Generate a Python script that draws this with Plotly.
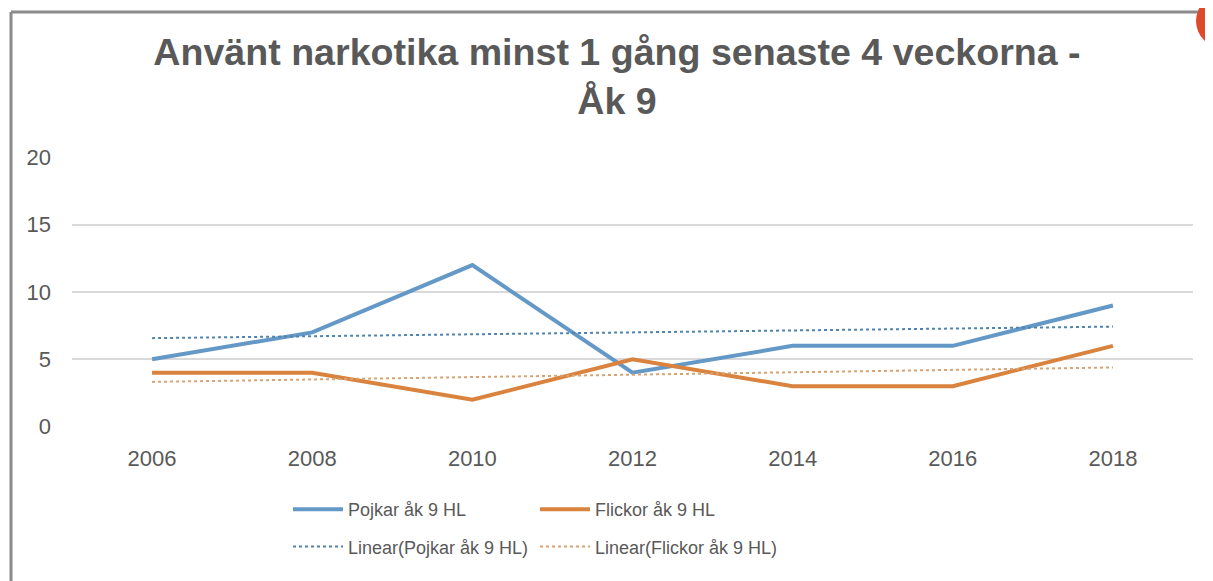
import numpy as np
import plotly.graph_objects as go

years = ["2006", "2008", "2010", "2012", "2014", "2016", "2018"]
pojkar = [5, 7, 12, 4, 6, 6, 9]
flickor = [4, 4, 2, 5, 3, 3, 6]
y_ticks = [0, 5, 10, 15, 20]

title_text = "Använt narkotika minst 1 gång senaste 4 veckorna -<br>Åk 9"
name_p = "Pojkar åk 9 HL"
name_f = "Flickor åk 9 HL"
name_lp = "Linear(Pojkar åk 9 HL)"
name_lf = "Linear(Flickor åk 9 HL)"

c_blue = "#6498c6"
c_orange = "#d9833f"
c_blue_tr = "#4f84ad"
c_orange_tr = "#d8a373"

OFF = 8  # page body margin
W, H = 1213 - OFF, 581 - OFF
ML, MR = 72 - OFF, 20
MT = 157 - OFF
MB = H - (427 - OFF)
PW = W - ML - MR
PH = H - MT - MB


def px_x(page_x):
    return (page_x - OFF - ML) / PW


def px_y(page_y):
    return (H - MB - (page_y - OFF)) / PH


idx = np.arange(len(years))
trend_p = np.polyval(np.polyfit(idx, pojkar, 1), idx)
trend_f = np.polyval(np.polyfit(idx, flickor, 1), idx)

fig = go.Figure()
fig.add_trace(go.Scatter(x=years, y=pojkar, mode="lines", name=name_p,
                         line=dict(color=c_blue, width=4), legend="legend",
                         legendgroup="a"))
fig.add_trace(go.Scatter(x=years, y=trend_p, mode="lines", name=name_lp,
                         line=dict(color=c_blue_tr, width=2, dash="3px,3px"),
                         legend="legend", legendgroup="b"))
fig.add_trace(go.Scatter(x=years, y=flickor, mode="lines", name=name_f,
                         line=dict(color=c_orange, width=4), legend="legend2",
                         legendgroup="c"))
fig.add_trace(go.Scatter(x=years, y=trend_f, mode="lines", name=name_lf,
                         line=dict(color=c_orange_tr, width=2, dash="3px,3px"),
                         legend="legend2", legendgroup="d"))

legend_font = dict(family="Liberation Sans, Arial", size=18, color="#595959")
legend_common = dict(orientation="v", xanchor="left", yanchor="top",
                     font=legend_font, itemwidth=50, tracegroupgap=11,
                     bgcolor="rgba(0,0,0,0)", traceorder="grouped")

fig.update_layout(
    width=W, height=H,
    margin=dict(l=ML, r=MR, t=MT, b=MB, autoexpand=False),
    paper_bgcolor="white", plot_bgcolor="white",
    title=dict(text=title_text, x=(617 - OFF) / W, xanchor="center",
               y=1 - 57 / H, yanchor="top", yref="container",
               font=dict(family="Liberation Sans, Arial",
                         size=37.6, color="#595959", weight="bold")),
    xaxis=dict(type="category", range=[-0.5, len(years) - 0.5],
               showgrid=False, zeroline=False, showline=False,
               ticks="", ticklabelstandoff=16,
               tickfont=dict(family="Liberation Sans, Arial", size=22, color="#595959")),
    yaxis=dict(range=[-0.03, 20.03], tickvals=y_ticks, showgrid=True, gridcolor="#d9d9d9",
               gridwidth=2, zeroline=False, showline=False, ticks="",
               ticklabelstandoff=20,
               tickfont=dict(family="Liberation Sans, Arial", size=22, color="#595959")),
    legend=dict(x=px_x(288), y=px_y(491), **legend_common),
    legend2=dict(x=px_x(535), y=px_y(491), **legend_common),
    showlegend=True,
    shapes=[
        dict(type="line", xref="paper", yref="paper", x0=px_x(11), x1=px_x(1198),
             y0=px_y(12), y1=px_y(12), line=dict(color="#8a8a8a", width=3), layer="below"),
        dict(type="line", xref="paper", yref="paper", x0=px_x(11), x1=px_x(11),
             y0=px_y(12), y1=px_y(600), line=dict(color="#8a8a8a", width=3), layer="below"),
        dict(type="circle", xref="paper", yref="paper", x0=px_x(1196), x1=px_x(1250),
             y0=px_y(-6), y1=px_y(48), fillcolor="#dd4b2b", line=dict(width=0),
             layer="above"),
    ],
)

fig.write_html("out.html")
